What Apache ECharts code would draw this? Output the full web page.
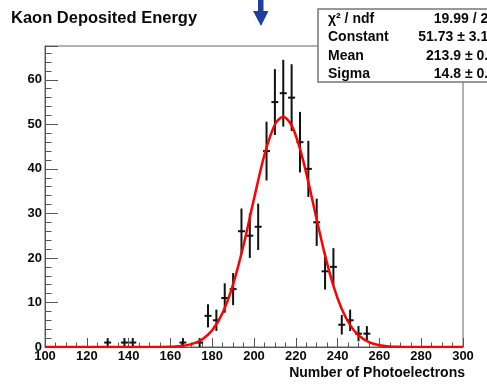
<!DOCTYPE html>
<html>
<head>
<meta charset="utf-8">
<script src="https://cdn.jsdelivr.net/npm/echarts@6/dist/echarts.min.js"></script>
<style>
html, body { margin: 0; padding: 0; background: #fff; }
#chart_container { width: 487px; height: 385px; }
</style>
</head>
<body>
<div id="chart_container"></div>
<script>
// histogram bins (centre, entries, error)
var binCenters = [130, 138, 142, 166, 174, 178, 182, 186, 190, 194, 198, 202, 206, 210, 214, 218, 222, 226, 230, 234, 238, 242, 246, 250, 254];
var counts     = [1, 1, 1, 1, 1, 7, 6, 11, 13, 26, 25, 27, 44, 55, 57, 56, 46, 40, 28, 17, 18, 5, 6, 3, 3];
var errors     = [1, 1, 1, 1, 1, 2.6, 2.4, 3.3, 3.6, 5.1, 5, 5.2, 6.6, 7.4, 7.5, 7.5, 6.8, 6.3, 5.3, 4.1, 4.2, 2.2, 2.4, 1.7, 1.7];

// gaussian fit curve
var fitX = [100, 150, 160, 165, 170, 175, 180, 185, 190, 195, 200, 205, 210, 214, 218, 222, 226, 230, 234, 238, 242, 246, 250, 255, 260, 265, 270, 280, 300];
var fitY = [0, 0, 0.07, 0.22, 0.64, 1.64, 3.75, 7.68, 14.05, 22.89, 33.28, 43.17, 49.97, 51.73, 49.79, 44.54, 37.03, 28.63, 20.57, 13.74, 8.53, 4.92, 2.64, 1.09, 0.4, 0.13, 0.04, 0, 0];

var statNames  = ['\u03C7\u00B2 / ndf', 'Constant', 'Mean', 'Sigma'];
var statValues = ['19.99 / 22', '51.73 \u00B1 3.12', '213.9 \u00B1 0.7', '14.8 \u00B1 0.6'];

var FONT = '"Liberation Sans", Arial, Helvetica, sans-serif';
var INK = '#0a0a0a';

var histData = [];
for (var i = 0; i < binCenters.length; i++) {
    histData.push([binCenters[i], counts[i], errors[i]]);
}
var fitData = [];
for (var j = 0; j < fitX.length; j++) {
    fitData.push([fitX[j], fitY[j]]);
}

function renderErrorBar(params, api) {
    var x = api.value(0), y = api.value(1), e = api.value(2);
    var c = api.coord([x, y]);
    var top = api.coord([x, y + e]);
    var bot = api.coord([x, y - e]);
    var st = { stroke: '#111', lineWidth: 2 };
    return {
        type: 'group',
        children: [
            { type: 'line', shape: { x1: c[0], y1: top[1], x2: c[0], y2: bot[1] }, style: st },
            { type: 'line', shape: { x1: c[0] - 3.5, y1: c[1], x2: c[0] + 3.5, y2: c[1] }, style: st }
        ]
    };
}

var graphics = [
    {
        type: 'text', left: 11, top: 10, z: 100,
        style: { text: 'Kaon Deposited Energy', font: 'bold 16.5px ' + FONT, fill: INK }
    },
    {
        type: 'polygon', z: 100,
        shape: { points: [[258, 0], [263.5, 0], [263.5, 11], [268.5, 11], [261, 26], [253, 11], [258, 11]] },
        style: { fill: '#1d3f9e' }
    },
    {
        type: 'rect', z: 100,
        shape: { x: 318, y: 9, width: 200, height: 73 },
        style: { fill: '#fff', stroke: '#777', lineWidth: 1.5 }
    }
];
for (var k = 0; k < statNames.length; k++) {
    graphics.push({
        type: 'text', z: 101, x: 328, y: 19 + k * 18.5,
        style: { text: statNames[k], font: 'bold 14px ' + FONT, fill: INK, verticalAlign: 'middle' }
    });
    graphics.push({
        type: 'text', z: 101, x: 496, y: 19 + k * 18.5,
        style: { text: statValues[k], font: 'bold 14px ' + FONT, fill: INK, align: 'right', verticalAlign: 'middle' }
    });
}

var dom = document.getElementById('chart_container');
var myChart = echarts.init(dom);
var option = {
    animation: false,
    backgroundColor: '#fff',
    grid: {
        left: 45, right: 24, top: 46, bottom: 38,
        show: true, borderColor: '#666', borderWidth: 1
    },
    xAxis: {
        type: 'value',
        min: 100, max: 300, interval: 20,
        name: 'Number of Photoelectrons',
        nameLocation: 'end',
        nameGap: 2,
        nameTextStyle: {
            fontFamily: FONT, fontWeight: 'bold', fontSize: 14, color: INK,
            align: 'right', verticalAlign: 'top', padding: [19, 0, 0, 0]
        },
        axisLine: { lineStyle: { color: '#555', width: 1 } },
        axisTick: { inside: true, length: 9, lineStyle: { color: '#555' } },
        minorTick: { show: true, splitNumber: 4, length: 4.5, lineStyle: { color: '#555' } },
        axisLabel: { margin: 3, fontFamily: FONT, fontWeight: 'bold', fontSize: 13, color: INK },
        splitLine: { show: false }
    },
    yAxis: {
        type: 'value',
        min: 0, max: 67.6, interval: 10,
        axisLine: { show: true, lineStyle: { color: '#555', width: 1 } },
        axisTick: { show: true, inside: true, length: 13, lineStyle: { color: '#555' } },
        minorTick: { show: true, splitNumber: 5, length: 6.5, lineStyle: { color: '#555' } },
        axisLabel: { margin: 3, showMaxLabel: false, fontFamily: FONT, fontWeight: 'bold', fontSize: 13, color: INK },
        splitLine: { show: false }
    },
    series: [
        {
            name: 'data',
            type: 'custom',
            renderItem: renderErrorBar,
            data: histData,
            z: 3
        },
        {
            name: 'fit',
            type: 'line',
            data: fitData,
            smooth: 0.3,
            showSymbol: false,
            lineStyle: { color: '#ff0000', width: 2.5 },
            z: 4
        }
    ],
    graphic: graphics
};

myChart.setOption(option, true);
</script>
</body>
</html>
